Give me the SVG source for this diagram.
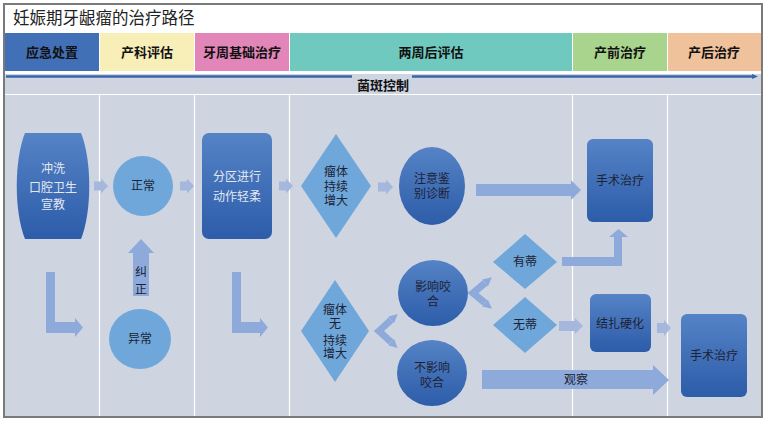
<svg xmlns="http://www.w3.org/2000/svg" width="766" height="421" viewBox="0 0 766 421">
<style>
.hdr{font-family:"Liberation Sans","Noto Sans CJK SC",sans-serif;font-size:13px;font-weight:bold;fill:#111;text-anchor:middle;dominant-baseline:central}
.t{font-family:"Liberation Serif","Noto Sans CJK SC",serif;font-size:12px;text-anchor:middle;dominant-baseline:central}
.dk{fill:#1d2233}
.lt{fill:#e3e8f2}
.dark{fill:url(#gdark)}
.light{fill:#6fa7da}
.arr{fill:#8eaadb}
.sarr{fill:#a6b7de}
.sep{stroke:#ffffff;stroke-width:1.2}
</style>
<defs>
<linearGradient id="gdark" x1="0" y1="0" x2="0" y2="1">
<stop offset="0" stop-color="#5583c6"/>
<stop offset="1" stop-color="#2d5ca9"/>
</linearGradient>
<marker id="mh" viewBox="0 0 10 10" refX="0" refY="5" markerUnits="userSpaceOnUse" markerWidth="9" markerHeight="15" orient="auto-start-reverse">
<path d="M0,0 L10,5 L0,10 z" fill="#8eaadb"/>
</marker>
<marker id="lh" viewBox="0 0 10 10" refX="5" refY="5" markerUnits="userSpaceOnUse" markerWidth="6" markerHeight="6" orient="auto">
<path d="M0,1 L10,5 L0,9 z" fill="#3a64a8"/>
</marker>
</defs>
<rect x="0" y="0" width="766" height="421" fill="#ffffff"/>
<g id="frame">
<rect x="5" y="74" width="756" height="342" fill="#ced5e1"/>
<line x1="5" y1="94.5" x2="761" y2="94.5" class="sep"/>
<line x1="99.5" y1="95" x2="99.5" y2="416" class="sep"/>
<line x1="194.5" y1="95" x2="194.5" y2="416" class="sep"/>
<line x1="289.5" y1="95" x2="289.5" y2="416" class="sep"/>
<line x1="572.5" y1="95" x2="572.5" y2="416" class="sep"/>
<line x1="667.5" y1="95" x2="667.5" y2="416" class="sep"/>
<rect x="4" y="4" width="758" height="413" fill="none" stroke="#7a7a7a" stroke-width="2"/>
<text x="13" y="24" font-family="'Liberation Serif','Noto Sans CJK SC',serif" font-size="16.5" fill="#222">妊娠期牙龈瘤的治疗路径</text>
</g>
<g id="header">
<rect x="5" y="33" width="94" height="38" fill="#4170b7"/>
<rect x="100" y="33" width="94" height="38" fill="#f7eeb8"/>
<rect x="195" y="33" width="94" height="38" fill="#e286b9"/>
<rect x="290" y="33" width="282" height="38" fill="#6fc9be"/>
<rect x="573" y="33" width="94" height="38" fill="#a9d48d"/>
<rect x="668" y="33" width="93" height="38" fill="#efc29c"/>
<text class="hdr" x="52" y="52">应急处置</text>
<text class="hdr" x="147" y="52">产科评估</text>
<text class="hdr" x="242" y="52">牙周基础治疗</text>
<text class="hdr" x="431" y="52">两周后评估</text>
<text class="hdr" x="620" y="52">产前治疗</text>
<text class="hdr" x="714" y="52">产后治疗</text>
</g>
<g id="plaque-lane">
<line x1="6" y1="76.5" x2="352" y2="76.5" stroke="#3a64a8" stroke-width="2.5"/>
<line x1="412" y1="76.5" x2="755" y2="76.5" stroke="#3a64a8" stroke-width="2.5" marker-end="url(#lh)"/>
<text class="hdr" x="383" y="85" font-size="12.5">菌斑控制</text>
</g>
<g id="n-rinse">
<path class="dark" d="M25,133 L81,133 C92,160 92,212 81,239 L25,239 C14,212 14,160 25,133 Z"/>
<text class="t lt" x="53" y="169">冲洗</text>
<text class="t lt" x="53" y="188">口腔卫生</text>
<text class="t lt" x="53" y="205">宣教</text>
</g>
<g id="n-normal">
<circle class="light" cx="143" cy="186" r="30"/>
<text class="t dk" x="143" y="186">正常</text>
</g>
<g id="n-abnormal">
<ellipse class="light" cx="140" cy="339" rx="31" ry="30"/>
<text class="t dk" x="140" y="339">异常</text>
</g>
<g id="n-zone">
<rect class="dark" x="202" y="133" width="70" height="106" rx="7"/>
<text class="t lt" x="237" y="177">分区进行</text>
<text class="t lt" x="237" y="197">动作轻柔</text>
</g>
<g id="n-grow">
<polygon class="light" points="336,134 371,186 336,238 301,186"/>
<text class="t dk" x="336" y="172">瘤体</text>
<text class="t dk" x="336" y="187">持续</text>
<text class="t dk" x="336" y="201">增大</text>
</g>
<g id="n-diag">
<ellipse class="dark" cx="432" cy="186" rx="33" ry="39"/>
<text class="t dk" x="432" y="179">注意鉴</text>
<text class="t dk" x="432" y="194">别诊断</text>
</g>
<g id="n-surg1">
<rect class="dark" x="587" y="139" width="66" height="83" rx="6"/>
<text class="t dk" x="620" y="181">手术治疗</text>
</g>
<g id="n-nogrow">
<polygon class="light" points="335,280 369,331 335,382 301,331"/>
<text class="t dk" x="335" y="310">瘤体</text>
<text class="t dk" x="335" y="324">无</text>
<text class="t dk" x="335" y="341">持续</text>
<text class="t dk" x="335" y="354">增大</text>
</g>
<g id="n-occl">
<ellipse class="dark" cx="433" cy="293" rx="35" ry="33"/>
<text class="t dk" x="433" y="287">影响咬</text>
<text class="t dk" x="433" y="302">合</text>
</g>
<g id="n-noocc">
<ellipse class="dark" cx="432" cy="373" rx="35" ry="33"/>
<text class="t dk" x="432" y="368">不影响</text>
<text class="t dk" x="432" y="383">咬合</text>
</g>
<g id="n-ped">
<polygon class="light" points="525,234 557,262 525,289 493,262"/>
<text class="t dk" x="525" y="262">有蒂</text>
</g>
<g id="n-sess">
<polygon class="light" points="525,297 557,325 525,353 493,325"/>
<text class="t dk" x="525" y="325">无蒂</text>
</g>
<g id="n-ligate">
<rect class="dark" x="590" y="294" width="61" height="58" rx="6"/>
<text class="t dk" x="620" y="324">结扎硬化</text>
</g>
<g id="n-surg2">
<rect class="dark" x="681" y="314" width="66" height="83" rx="6"/>
<text class="t dk" x="714" y="356">手术治疗</text>
</g>
<g id="connectors">
<polygon class="sarr" points="94,181.5 101,181.5 101,178.5 108,186 101,193.5 101,190.5 94,190.5"/>
<polygon class="sarr" points="180,181.5 187,181.5 187,178.5 194,186 187,193.5 187,190.5 180,190.5"/>
<polygon class="sarr" points="279,181.5 286,181.5 286,178.5 293,186 286,193.5 286,190.5 279,190.5"/>
<polygon class="sarr" points="378,182.5 386,182.5 386,179.5 393,187 386,194.5 386,191.5 378,191.5"/>
<polygon class="sarr" points="559,321 575,321 575,318 583,326 575,334 575,331 559,331"/>
<polygon class="sarr" points="657,323 664,323 664,320 671,328 664,336 664,333 657,333"/>
<polygon class="arr" points="133,296 133,253 128,253 141,239 154,253 149,253 149,296"/>
<text class="t dk" x="141" y="272">纠</text>
<text class="t dk" x="141" y="290">正</text>
<polygon class="arr" points="46,272 55,272 55,322 75,322 75,318 83,327.5 75,337 75,333 46,333"/>
<polygon class="arr" points="232,272 241,272 241,322 260,322 260,318 268,327.5 260,337 260,333 232,333"/>
<polygon class="arr" points="476,184 571,184 571,180 581,190 571,200 571,196 476,196"/>
<polygon class="arr" points="562,257 614,257 614,237 609,237 618.5,229 628,237 622,237 622,266 562,266"/>
<polygon class="arr" points="482,370 653,370 653,365 669,380 653,395 653,389 482,389"/>
<text class="t dk" x="576" y="380">观察</text>
<path d="M391,320 L379,331 L391,342" fill="none" stroke="#8eaadb" stroke-width="7" marker-start="url(#mh)" marker-end="url(#mh)"/>
<path d="M485,283 L473,293 L485,303" fill="none" stroke="#8eaadb" stroke-width="7" marker-start="url(#mh)" marker-end="url(#mh)"/>
</g>
</svg>
